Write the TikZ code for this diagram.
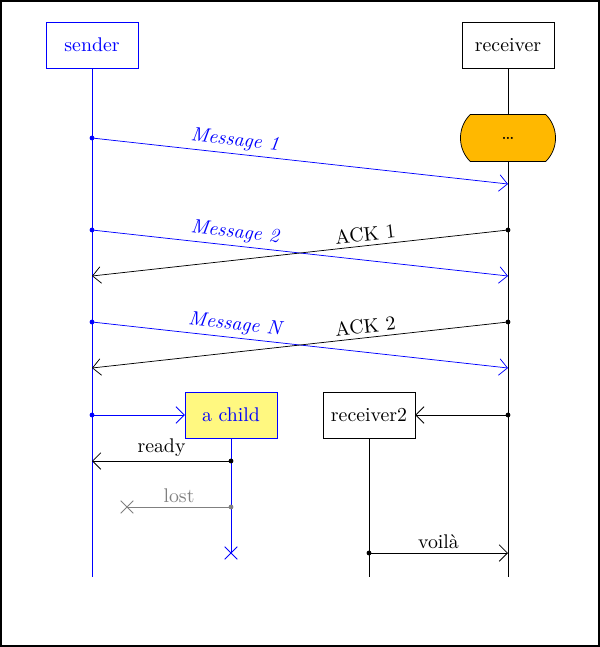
\documentclass[tikz,border=0pt]{standalone}
\usetikzlibrary{shapes.misc,arrows.meta}
\definecolor{blockorange}{RGB}{255,184,0}

\begin{document}
\fontsize{10.8}{13}\selectfont
\begin{tikzpicture}[x=0.545pt,y=-0.545pt,
    thread/.style={draw, fill=white, minimum width=50pt, minimum height=25pt},
    bluethread/.style={thread, draw=blue, text=blue},
    busyblock/.style={rounded rectangle, rounded rectangle arc length=90, draw, fill=blockorange, minimum width=59pt, minimum height=25.5pt},
    msg/.style={-{Straight Barb[length=4.5pt,width=9pt]}},
    dot/.style={circle, fill, inner sep=0pt, minimum size=2.6pt},
    lostend/.style={cross out, draw, inner sep=0pt, minimum size=6.5pt}]
   \useasboundingbox (0,0) rectangle (600,647);
   \draw[line width=2pt] (0,0) rectangle (600,647);
   % threads
   \node[bluethread, name=sender] at (92,45) {sender};
   \node[thread, name=receiver] at (508,45) {receiver};
   \coordinate (sender end) at (92,577);
   \coordinate (receiver end) at (508,577);
   \draw[blue] (sender) -- (sender end);
   \draw (receiver) -- (receiver end);
   \node[busyblock, name=busy] at (508,138) {\dots};
   % messages
   \node[dot, blue, name=m1] at (92,138) {};
   \coordinate (m1 end) at (508,184);
   \draw[msg, blue] (m1.center) -- node[pos=0.34, above, sloped, font=\itshape, inner sep=2pt]{Message 1} (m1 end);
   \node[dot, blue, name=m2] at (92,230) {};
   \coordinate (m2 end) at (508,276);
   \draw[msg, blue] (m2.center) -- node[pos=0.34, above, sloped, font=\itshape, inner sep=2pt]{Message 2} (m2 end);
   \node[dot, name=a1] at (508,230) {};
   \coordinate (a1 end) at (92,276);
   \draw[msg] (a1.center) -- node[pos=0.34, above, sloped, inner sep=2pt]{ACK 1} (a1 end);
   \node[dot, blue, name=mn] at (92,322) {};
   \coordinate (mn end) at (508,368);
   \draw[msg, blue] (mn.center) -- node[pos=0.34, above, sloped, font=\itshape, inner sep=2pt]{Message N} (mn end);
   \node[dot, name=a2] at (508,322) {};
   \coordinate (a2 end) at (92,368);
   \draw[msg] (a2.center) -- node[pos=0.34, above, sloped, inner sep=2pt]{ACK 2} (a2 end);
   % new threads
   \node[bluethread, fill=yellow!50, name=child] at (231,415) {a child};
   \node[thread, name=receiver2] at (369,415) {receiver2};
   \node[dot, blue, name=spawn] at (92,415) {};
   \draw[msg, blue] (spawn.center) -- (child);
   \node[dot, name=spawn2] at (508,415) {};
   \draw[msg] (spawn2.center) -- (receiver2);
   \node[lostend, blue, name=child end] at (231,553) {};
   \draw[blue] (child) -- (child end.center);
   \coordinate (receiver2 end) at (369,577);
   \draw (receiver2) -- (receiver2 end);
   % replies
   \node[dot, name=r1] at (231,461) {};
   \coordinate (r1 end) at (92,461);
   \draw[msg] (r1.center) -- node[above, inner sep=2pt]{ready} (r1 end);
   \node[dot, gray, name=r2] at (231,507) {};
   \node[lostend, gray, name=r2 end] at (127,507) {};
   \draw[gray] (r2.center) -- node[above, inner sep=2pt]{lost} (r2 end.center);
   \node[dot, name=r3] at (369,553) {};
   \coordinate (r3 end) at (508,553);
   \draw[msg] (r3.center) -- node[above, inner sep=2pt]{voilà} (r3 end);
\end{tikzpicture}
\end{document}
